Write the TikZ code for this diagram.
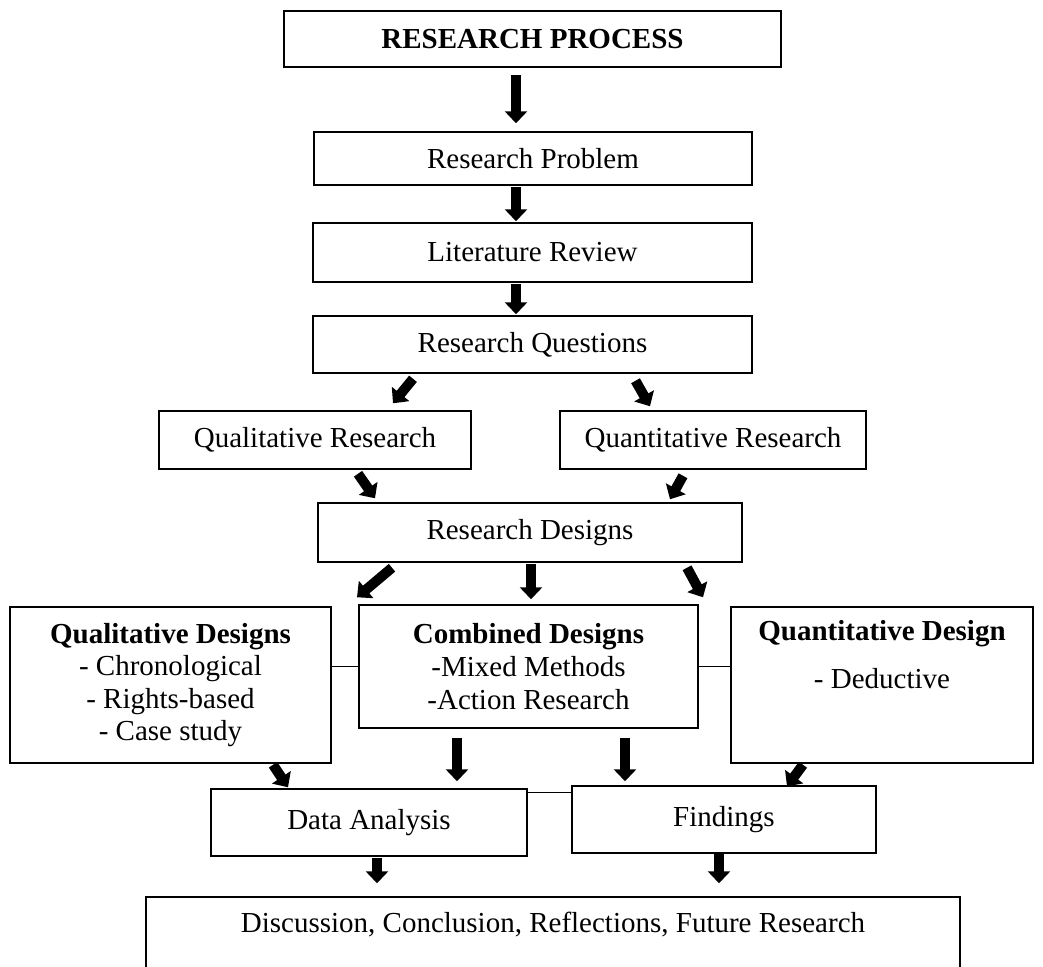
\documentclass[tikz,border=0pt]{standalone}
\usepackage{fontspec}
\setmainfont{Liberation Serif}
\usetikzlibrary{arrows.meta,calc}

\begin{document}
\begin{tikzpicture}[
       x=0.5pt,y=-0.5pt,
       font=\fontsize{14.5}{16.3}\selectfont,
       stage/.style={
         draw,
         rectangle,
         line width=0.75pt,
         inner sep=0pt,
         align=center
       },
       blk/.style={
         line width=5pt,
         -{Triangle[width=11pt,length=6pt]}
       },
       link/.style={
         line width=0.6pt
       }
     ]

       \useasboundingbox (0,0) rectangle (1043,966);
       \clip (0,0) rectangle (1043,966);

       \node (proc) at (532.5,39) [stage,line width=1pt,minimum width=248.5pt,minimum height=28pt]{\textbf{RESEARCH PROCESS}};
       \node (prob) at (533,158.5) [stage,minimum width=219pt,minimum height=26.5pt]{Research Problem};
       \node (lit) at (532.5,252.5) [stage,minimum width=219.5pt,minimum height=29.5pt]{Literature Review};
       \node (rq) at (532.5,344.5) [stage,minimum width=219.5pt,minimum height=28.5pt]{Research Questions};

       \node (qlr) at (315,440) [stage,minimum width=156pt,minimum height=29pt]{Qualitative Research};
       \node (qnr) at (713,440) [stage,minimum width=153pt,minimum height=29pt]{Quantitative Research};

       \node (rd) at (530,532.5) [stage,minimum width=212pt,minimum height=29.5pt]{Research Designs};

       \node (qld) at (170.5,685) [stage,minimum width=160.5pt,minimum height=78pt]{\textbf{Qualitative Designs}\\- Chronological\\- Rights-based\\- Case study};
       \node (comb) at (528.5,666.5) [stage,minimum width=169.5pt,minimum height=61.5pt]{\textbf{Combined Designs}\\-Mixed Methods\\-Action Research};
       \node (qnd) at (882,685) [stage,minimum width=151pt,minimum height=78pt]{\textbf{Quantitative Design}\\[7.7pt]- Deductive\\[9.7pt]\strut};

       \node (da) at (369,822.5) [stage,minimum width=158pt,minimum height=33.5pt]{Data Analysis};
       \node (fnd) at (724,819.5) [stage,minimum width=152pt,minimum height=33.5pt]{Findings};

       \node (disc) at (553,953.5) [stage,minimum width=407pt,minimum height=56.5pt]{Discussion, Conclusion, Reflections, Future Research\\[10.2pt]\strut};

       \draw[blk] ($(proc.south)+(-16.5,7)$) -- ($(prob.north)+(-17,-8)$);
       \draw[blk] ($(prob.south)+(-17,1)$) -- ($(lit.north)+(-16.5,-1)$);
       \draw[blk] ($(lit.south)+(-16.5,1)$) -- ($(rq.north)+(-16.5,-1)$);

       \draw[blk] ($(rq.south)+(-119.5,5)$) -- ($(qlr.north)+(78,-7)$);
       \draw[blk] ($(rq.south)+(103,7)$) -- ($(qnr.north)+(-63,-4)$);

       \draw[blk] ($(qlr.south)+(43,4)$) -- ($(rd.north)+(-155,-4)$);
       \draw[blk] ($(qnr.south)+(-30,6)$) -- ($(rd.north)+(140,-3)$);

       \draw[blk] ($(rd.south)+(-138,5)$) -- ($(comb.north)+(-171.5,-7)$);
       \draw[blk] ($(rd.south)+(1,1)$) -- ($(comb.north)+(2.5,-5)$);
       \draw[blk] ($(rd.south)+(157,5)$) -- ($(qnd.north)+(-179,-9)$);

       \draw[link] (comb.west) -- (comb.west -| qld.east);
       \draw[link] (comb.east) -- (comb.east -| qnd.west);

       \draw[blk] ($(qld.south)+(102.5,1)$) -- ($(da.north)+(-81,-1)$);
       \draw[blk] ($(comb.south)+(-71.5,9)$) -- ($(da.north)+(88,-7)$);
       \draw[blk] ($(comb.south)+(96.5,9)$) -- ($(fnd.north)+(-99,-4)$);
       \draw[blk] ($(qnd.south)+(-79,1)$) -- ($(fnd.north)+(63,1)$);

       \draw[link] ($(da.north east)+(-2,4)$) -- ($(da.north east -| fnd.west)+(0,4)$);

       \draw[blk] ($(da.south)+(8,1)$) -- ($(disc.north)+(-176,-13)$);
       \draw[blk] ($(fnd.south)+(-5,0)$) -- ($(disc.north)+(166,-13)$);

\end{tikzpicture}
\end{document}
